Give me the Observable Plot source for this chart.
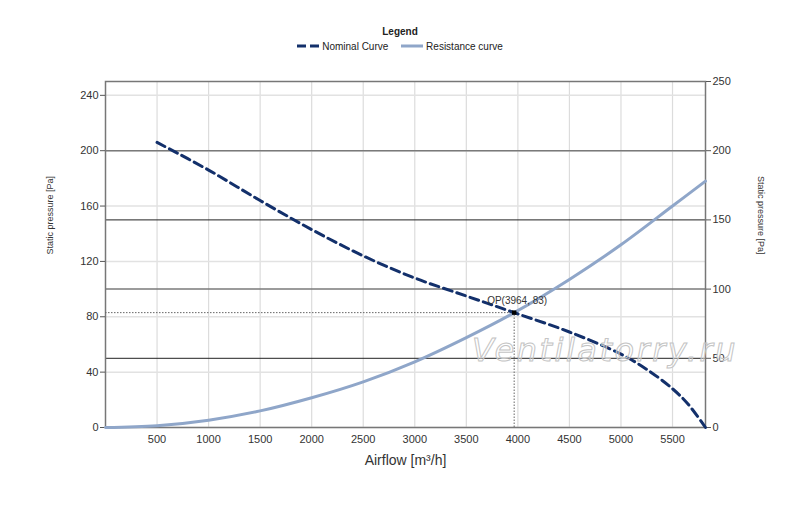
<!DOCTYPE html>
<html>
<head>
<meta charset="utf-8">
<script src="https://cdn.jsdelivr.net/npm/d3@7"></script>
<script src="https://cdn.jsdelivr.net/npm/@observablehq/plot@0.6"></script>
<style>
  body { margin: 0; background: white; font-family: "Liberation Sans", Arial, sans-serif; }
  #wrap { position: relative; width: 800px; height: 507px; }
  #legend { position: absolute; left: 0; top: 26px; width: 800px; text-align: center; font-size: 10px; color: #222; }
  #legend .title { font-weight: bold; margin-bottom: 3px; }
  #legend .item { display: inline-flex; align-items: center; margin: 0 5px; }
  #legend svg { margin-right: 3px; }
  #watermark { position: absolute; left: 472px; top: 331px; font: oblique 32px "DejaVu Sans", Verdana, sans-serif;
    color: rgba(255,255,255,0.35); -webkit-text-stroke: 1px #c4c4c4; letter-spacing: 2.5px; pointer-events: none; }
</style>
</head>
<body>
<div id="wrap">
  <div id="chart"></div>
  <div id="legend">
    <div class="title">Legend</div>
    <span class="item"><svg width="22" height="6"><line x1="0" y1="3" x2="22" y2="3" stroke="#13306b" stroke-width="3" stroke-dasharray="9,4"/></svg>Nominal Curve</span>
    <span class="item"><svg width="22" height="6"><line x1="0" y1="3" x2="22" y2="3" stroke="#8fa6c9" stroke-width="3"/></svg>Resistance curve</span>
  </div>
  <div id="watermark">Ventilatorry.ru</div>
</div>
<script>
// curva nominal del ventilador
const airflowNominal = [500, 1000, 1500, 2000, 2500, 3000, 3500, 3964, 4500, 5000, 5250, 5500, 5650, 5820]
const pressureNominal = [206, 186, 164, 143, 124, 108, 95, 83, 69, 53, 42, 28, 17, 0]

// curva de resistencia de la red
const airflowResist = [0, 500, 1000, 1500, 2000, 2500, 3000, 3500, 3964, 4500, 5000, 5500, 5820]
const pressureResist = [0, 1.3, 5.3, 12, 21.5, 33, 47.5, 65, 83, 107, 132, 160, 178]

// punto de operacion
const opAirflow = 3964
const opPressure = 83

const xTicks = [500, 1000, 1500, 2000, 2500, 3000, 3500, 4000, 4500, 5000, 5500]
const yTicksLeft = [0, 40, 80, 120, 160, 200, 240]
const yTicksRight = [0, 50, 100, 150, 200, 250]

const nominal = airflowNominal.map((q, i) => ({q, p: pressureNominal[i]}))
const resist = airflowResist.map((q, i) => ({q, p: pressureResist[i]}))
const op = [{q: opAirflow, p: opPressure, label: `OP(${opAirflow}, ${opPressure})`}]

let chart = Plot.plot({
  width: 800,
  height: 507,
  marginLeft: 105,
  marginRight: 95,
  marginTop: 81,
  marginBottom: 80,
  style: {fontFamily: "Liberation Sans, Arial, sans-serif", fontSize: "11px", color: "#333", background: "white"},
  x: {domain: [0, 5820]},
  y: {domain: [0, 250]},
  marks: [
    Plot.gridX(xTicks, {stroke: "#dcdcdc", strokeOpacity: 1, strokeWidth: 1.2}),
    Plot.gridY(yTicksLeft, {stroke: "#e2e2e2", strokeOpacity: 1, strokeWidth: 1.5}),
    Plot.ruleY([100, 200], {stroke: "#7a7a7a", strokeWidth: 1.5}),
    Plot.ruleY([50, 150], {stroke: "#222", strokeWidth: 1}),
    Plot.frame({stroke: "#777", strokeWidth: 1.5}),
    Plot.axisY(yTicksLeft, {anchor: "left", tickSize: 5, tickPadding: 2, label: null, fontSize: 11, stroke: "#555", tickFormat: "d"}),
    Plot.axisY(yTicksRight, {anchor: "right", tickSize: 5, tickPadding: 2, label: null, fontSize: 11, stroke: "#555", tickFormat: "d"}),
    Plot.axisX(xTicks, {anchor: "bottom", tickSize: 0, tickPadding: 8, label: null, fontSize: 11, tickFormat: "d"}),
    Plot.text(["Static pressure [Pa]"], {frameAnchor: "left", dx: -55, rotate: -90, fontSize: 9, fill: "#333"}),
    Plot.text(["Static pressure [Pa]"], {frameAnchor: "right", dx: 55, rotate: 90, fontSize: 9, fill: "#333"}),
    Plot.text(["Airflow [m³/h]"], {frameAnchor: "bottom", dy: 37, fontSize: 14, fill: "#333"}),
    // lineas guia punteadas hasta el punto de operacion
    Plot.ruleY(op, {y: "p", x1: 0, x2: "q", stroke: "#666", strokeDasharray: "1.5,1.5", strokeWidth: 1}),
    Plot.ruleX(op, {x: "q", y1: 0, y2: "p", stroke: "#666", strokeDasharray: "1.5,1.5", strokeWidth: 1}),
    Plot.line(resist, {x: "q", y: "p", stroke: "#8fa6c9", strokeWidth: 3, curve: "catmull-rom"}),
    Plot.line(nominal, {x: "q", y: "p", stroke: "#13306b", strokeWidth: 3, strokeDasharray: "9,5", curve: "catmull-rom"}),
    Plot.dot(op, {x: "q", y: "p", symbol: "square", r: 2.5, fill: "black"}),
    Plot.text(op, {x: "q", y: "p", text: "label", dy: -12, dx: 3, fontSize: 10, fill: "#333"})
  ]
})
d3.select('#chart').append(() => chart)
</script>
</body>
</html>
